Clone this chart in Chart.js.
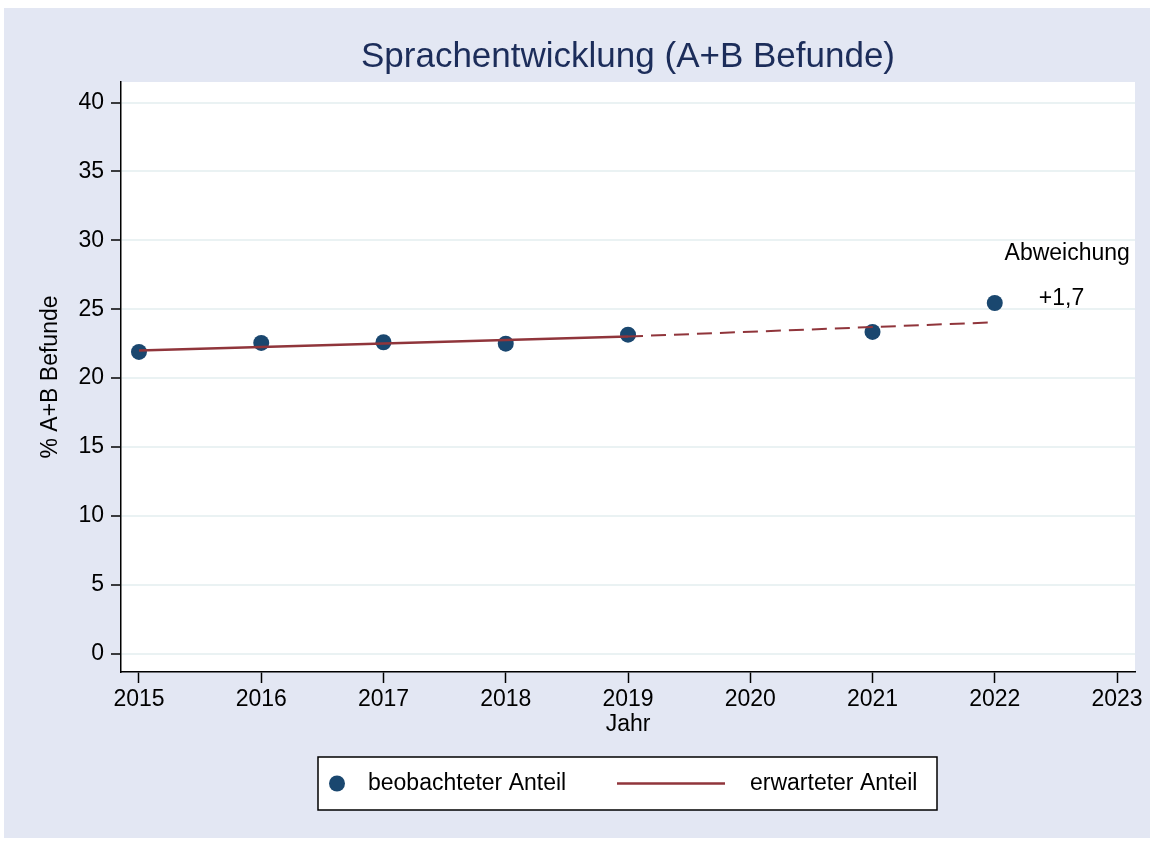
<!DOCTYPE html>
<html>
<head>
<meta charset="utf-8">
<script src="https://cdn.jsdelivr.net/npm/chart.js@4.4.1/dist/chart.umd.min.js"></script>
<style>
  html, body { margin: 0; padding: 0; background: #ffffff; }
  canvas { display: block; }
</style>
</head>
<body>
<canvas id="c" width="1154" height="841"></canvas>
<script>
// ---- data ----
const years = [2015, 2016, 2017, 2018, 2019, 2021, 2022];
const observed = [21.9, 22.55, 22.6, 22.5, 23.15, 23.35, 25.45];
const trendYears = [2015, 2019];
const trendValues = [22.0, 23.02];
const projYears = [2019, 2022];
const projValues = [23.02, 24.05];
const xTicks = [2015, 2016, 2017, 2018, 2019, 2020, 2021, 2022, 2023];
const yTicks = [0, 5, 10, 15, 20, 25, 30, 35, 40];
const titleText = 'Sprachentwicklung (A+B Befunde)';
const xTitle = 'Jahr';
const yTitle = '% A+B Befunde';
const noteLabel = 'Abweichung';
const noteValue = '+1,7';
const seriesLabels = ['beobachteter Anteil', 'erwarteter Anteil'];

const FONT = '"Liberation Sans", Arial, Helvetica, sans-serif';
const NAVY = '#1a476f';
const MAROON = '#90353b';
const BG = '#e3e7f3';

const decor = {
  id: 'decor',
  beforeDraw(chart) {
    const ctx = chart.ctx, a = chart.chartArea;
    ctx.save();
    ctx.fillStyle = '#ffffff';
    ctx.fillRect(0, 0, chart.width, chart.height);
    ctx.fillStyle = BG;
    ctx.fillRect(4, 8, chart.width - 8, chart.height - 11);
    ctx.fillStyle = '#ffffff';
    ctx.fillRect(a.left, a.top, a.right - a.left, a.bottom - a.top);
    ctx.restore();
  },
  afterDraw(chart) {
    const ctx = chart.ctx, a = chart.chartArea;
    const xs = chart.scales.x, ys = chart.scales.y;
    const cx = (a.left + a.right) / 2;
    ctx.save();
    // title
    ctx.fillStyle = '#1c2d5a';
    ctx.font = '35px ' + FONT;
    ctx.textAlign = 'center';
    ctx.textBaseline = 'middle';
    ctx.fillText(titleText, cx, 57);
    // axis titles
    ctx.fillStyle = '#000';
    ctx.font = '23px ' + FONT;
    ctx.fillText(xTitle, cx, 725);
    ctx.save();
    ctx.translate(51, (a.top + a.bottom) / 2);
    ctx.rotate(-Math.PI / 2);
    ctx.fillText(yTitle, 0, 0);
    ctx.restore();
    // annotation
    ctx.textAlign = 'left';
    ctx.fillText(noteLabel, xs.getPixelForValue(2022.08), ys.getPixelForValue(29.0));
    ctx.fillText(noteValue, xs.getPixelForValue(2022.36), ys.getPixelForValue(25.75));
    // legend
    const lx = 318, ly = 757, lw = 619, lh = 53, my = ly + lh / 2;
    ctx.fillStyle = '#fff';
    ctx.fillRect(lx, ly, lw, lh);
    ctx.strokeStyle = '#000';
    ctx.lineWidth = 1.5;
    ctx.strokeRect(lx, ly, lw, lh);
    ctx.fillStyle = NAVY;
    ctx.beginPath();
    ctx.arc(337, my, 8, 0, Math.PI * 2);
    ctx.fill();
    ctx.fillStyle = '#000';
    ctx.textBaseline = 'middle';
    ctx.fillText(seriesLabels[0], 368, my);
    ctx.strokeStyle = MAROON;
    ctx.lineWidth = 2.5;
    ctx.beginPath();
    ctx.moveTo(617, my);
    ctx.lineTo(725, my);
    ctx.stroke();
    ctx.fillText(seriesLabels[1], 750, my);
    ctx.restore();
  }
};

new Chart(document.getElementById('c'), {
  type: 'scatter',
  data: {
    datasets: [
      {
        label: seriesLabels[1],
        data: trendYears.map((x, i) => ({ x, y: trendValues[i] })),
        showLine: true,
        borderColor: MAROON,
        borderWidth: 2.5,
        pointRadius: 0,
        order: 0
      },
      {
        label: seriesLabels[1] + ' (Prognose)',
        data: projYears.map((x, i) => ({ x, y: projValues[i] })),
        showLine: true,
        borderColor: MAROON,
        borderWidth: 2,
        borderDash: [15, 8],
        pointRadius: 0,
        order: 0
      },
      {
        label: seriesLabels[0],
        data: years.map((x, i) => ({ x, y: observed[i] })),
        showLine: false,
        backgroundColor: NAVY,
        borderColor: NAVY,
        pointRadius: 8,
        pointBorderWidth: 0,
        order: 1
      }
    ]
  },
  options: {
    responsive: false,
    animation: false,
    events: [],
    layout: { padding: { top: 82, right: 19, left: 0, bottom: 0 } },
    plugins: { legend: { display: false }, title: { display: false }, tooltip: { enabled: false } },
    scales: {
      x: {
        type: 'linear',
        min: 2014.853,
        max: 2023.147,
        afterBuildTicks: s => { s.ticks = xTicks.map(v => ({ value: v })); },
        afterFit: s => { s.height = 169; },
        grid: { drawOnChartArea: false, tickColor: '#000', tickLength: 11, tickWidth: 1.5 },
        border: { display: true, color: '#000', width: 1.5 },
        ticks: {
          color: '#000',
          font: { family: FONT, size: 23 },
          padding: 3,
          maxRotation: 0,
          autoSkip: false,
          callback: v => String(v)
        }
      },
      y: {
        type: 'linear',
        min: -1.33,
        max: 41.49,
        afterBuildTicks: s => { s.ticks = yTicks.map(v => ({ value: v })); },
        afterFit: s => { s.width = 121; },
        grid: { color: '#eaf2f3', lineWidth: 2, tickColor: '#000', tickLength: 10, tickWidth: 1.5 },
        border: { display: true, color: '#000', width: 1.5 },
        ticks: {
          color: '#000',
          font: { family: FONT, size: 23 },
          padding: 7,
          autoSkip: false,
          callback: v => String(v)
        }
      }
    }
  },
  plugins: [decor]
});
</script>
</body>
</html>
